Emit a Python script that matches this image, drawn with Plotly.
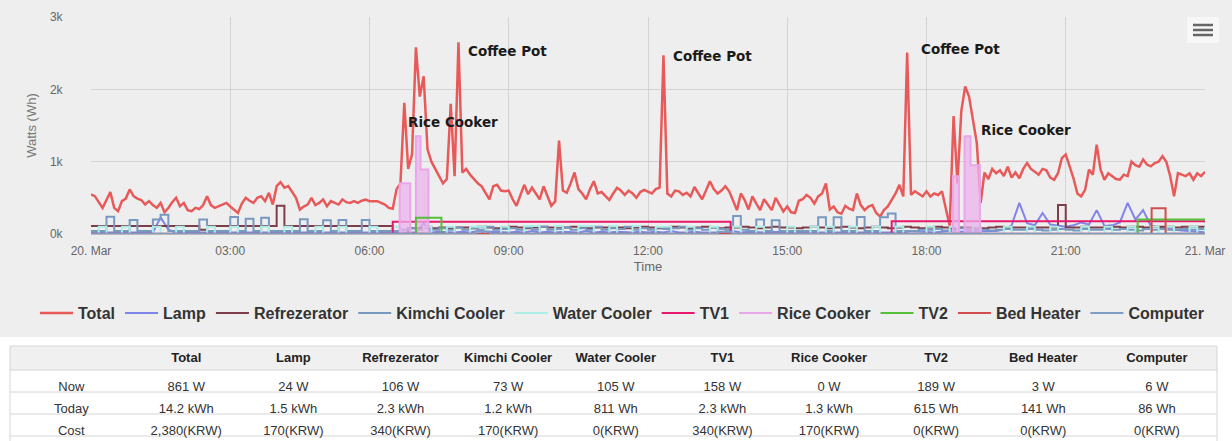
import numpy as np
import pandas as pd
import plotly.graph_objects as go

DAY_START = pd.Timestamp("2015-03-20 00:00")

# ---------------- data ----------------
# Total consumption, 5-minute readings (W), one row per hour
total_w = [
    546, 523, 440, 361, 470, 579, 361, 315, 454, 490, 616, 523,
    490, 470, 407, 454, 400, 361, 430, 300, 360, 440, 500, 384,
    430, 330, 315, 361, 345, 400, 523, 400, 361, 384, 400, 430,
    380, 338, 292, 420, 500, 460, 430, 500, 523, 454, 569, 407,
    662, 717, 639, 662, 580, 500, 338, 380, 407, 500, 400, 430,
    477, 384, 454, 430, 407, 477, 440, 430, 454, 430, 460, 477,
    454, 454, 454, 430, 407, 361, 350, 620, 700, 1815, 900, 1100,
    2580, 1900, 2180, 1170, 1000, 900, 800, 700, 760, 1800, 800, 2650,
    850, 900, 820, 760, 700, 660, 560, 480, 660, 680, 600, 590,
    600, 480, 390, 550, 680, 550, 640, 560, 480, 660, 520, 390,
    450, 1290, 600, 570, 700, 850, 620, 560, 480, 620, 730, 560,
    580, 520, 470, 560, 640, 600, 540, 600, 560, 500, 580, 610,
    580, 560, 620, 640, 2470, 560, 520, 600, 590, 540, 570, 520,
    650, 560, 480, 600, 730, 620, 560, 600, 660, 590, 470, 330,
    560, 470, 340, 520, 420, 330, 480, 400, 330, 500, 400, 310,
    380, 300, 290, 460, 480, 540, 500, 420, 520, 560, 700, 340,
    380, 300, 280, 390, 350, 330, 560, 400, 330, 380, 400, 290,
    240, 330, 380, 470, 560, 680, 520, 2510, 540, 590, 560, 520,
    590, 520, 560, 540, 590, 330, 110, 1630, 700, 1700, 2040, 1900,
    1580, 1260, 430, 850, 760, 900, 840, 880, 800, 930, 780, 850,
    770, 900, 980, 900, 860, 820, 900, 880, 780, 750, 840, 1050,
    1100, 940, 770, 560, 520, 610, 890, 820, 1235, 890, 750, 840,
    800, 760, 750, 820, 800, 1000, 950, 930, 1030, 960, 935, 980,
    1000, 1075, 1000, 800, 520, 840, 820, 800, 840, 750, 840, 800,
    861,
]

# Appliances, 10-minute readings (W), one row per hour
lamp_w = [
    20, 20, 20, 20, 20, 20,
    20, 20, 20, 230, 60, 20,
    20, 20, 20, 20, 20, 20,
    20, 20, 20, 20, 20, 20,
    20, 20, 20, 20, 20, 20,
    20, 20, 20, 20, 20, 20,
    20, 20, 20, 20, 30, 20,
    20, 150, 20, 30, 20, 20,
    30, 20, 40, 20, 30, 20,
    20, 30, 20, 40, 20, 30,
    20, 30, 20, 20, 40, 20,
    30, 20, 30, 20, 20, 30,
    20, 30, 20, 40, 20, 20,
    30, 20, 20, 30, 20, 40,
    20, 30, 20, 20, 30, 20,
    20, 20, 30, 20, 20, 30,
    20, 30, 20, 20, 30, 20,
    20, 20, 30, 20, 40, 30,
    30, 20, 30, 40, 30, 30,
    30, 30, 30, 40, 60, 120,
    430, 150, 120, 290, 130, 110,
    100, 120, 160, 130, 330, 110,
    120, 160, 430, 200, 330, 110,
    90, 80, 60, 50, 40, 30,
    24,
]

refrezerator_w = [
    110, 110, 110, 110, 110, 110,
    110, 110, 110, 110, 110, 110,
    110, 110, 60, 110, 110, 110,
    110, 110, 110, 110, 110, 110,
    390, 110, 110, 110, 110, 110,
    110, 110, 110, 110, 110, 110,
    110, 110, 110, 0, 0, 80,
    80, 90, 80, 90, 80, 90,
    90, 80, 100, 90, 80, 90,
    100, 90, 80, 90, 100, 90,
    80, 90, 100, 90, 80, 90,
    90, 100, 90, 80, 90, 100,
    90, 80, 90, 100, 90, 80,
    90, 100, 90, 80, 90, 90,
    100, 90, 80, 90, 100, 90,
    90, 80, 90, 100, 90, 80,
    90, 100, 90, 80, 90, 100,
    90, 80, 90, 100, 90, 80,
    90, 100, 90, 80, 90, 90,
    90, 80, 90, 100, 90, 90,
    90, 90, 90, 90, 90, 400,
    90, 90, 100, 90, 90, 100,
    100, 90, 100, 100, 90, 100,
    100, 100, 90, 100, 100, 100,
    106,
]

kimchi_w = [
    40, 40, 240, 40, 40, 195,
    40, 40, 200, 265, 40, 40,
    40, 40, 200, 40, 40, 40,
    235, 40, 210, 40, 225, 40,
    40, 40, 40, 205, 40, 40,
    190, 40, 195, 40, 40, 195,
    40, 40, 40, 40, 60, 80,
    60, 100, 60, 80, 60, 90,
    60, 80, 60, 100, 60, 70,
    80, 60, 90, 60, 100, 60,
    70, 90, 60, 80, 60, 100,
    60, 80, 70, 100, 60, 80,
    60, 90, 70, 80, 100, 60,
    80, 60, 90, 70, 60, 250,
    60, 40, 200, 40, 190, 40,
    40, 40, 40, 40, 230, 40,
    230, 40, 40, 235, 40, 40,
    230, 285, 40, 40, 40, 60,
    60, 70, 50, 60, 80, 60,
    70, 60, 50, 60, 70, 60,
    60, 70, 60, 50, 60, 70,
    60, 50, 70, 60, 60, 70,
    60, 70, 60, 50, 70, 60,
    70, 60, 60, 70, 60, 70,
    73,
]

water_cooler_w = [
    0, 100, 0, 0, 100, 0,
    0, 0, 100, 0, 0, 100,
    0, 0, 0, 100, 0, 0,
    100, 0, 0, 0, 100, 0,
    0, 100, 0, 0, 0, 100,
    0, 0, 100, 0, 0, 0,
    100, 0, 0, 100, 0, 0,
    0, 100, 0, 0, 100, 0,
    0, 100, 100, 0, 0, 100,
    0, 0, 110, 110, 0, 0,
    110, 0, 0, 110, 110, 0,
    0, 110, 0, 0, 110, 0,
    0, 100, 100, 0, 0, 100,
    0, 0, 100, 0, 0, 100,
    0, 0, 100, 0, 0, 0,
    100, 0, 0, 100, 0, 100,
    0, 0, 100, 0, 0, 100,
    0, 0, 100, 0, 0, 0,
    100, 0, 0, 100, 0, 0,
    100, 0, 0, 0, 100, 0,
    0, 100, 0, 0, 100, 0,
    0, 0, 100, 0, 0, 100,
    0, 0, 100, 0, 0, 100,
    0, 100, 0, 0, 100, 0,
    105,
]

# Switched appliances: change points (hour of day, W)
rice_hours = [0, 6.65, 6.88, 7.0, 7.1, 7.27, 18.57, 18.7, 18.82, 18.95, 19.15, 24]
rice_w = [0, 700, 0, 1350, 890, 0, 800, 0, 1350, 950, 0, 0]
tv1_hours = [0, 6.5, 13.78, 17.25, 24]
tv1_w = [0, 170, 0, 175, 158]
tv2_hours = [0, 7.0, 7.55, 22.55, 24]
tv2_w = [0, 225, 0, 200, 189]
bed_hours = [0, 22.85, 23.15, 24]
bed_w = [3, 355, 3, 3]
computer_hours = [0, 8.3, 8.6, 13.5, 13.8, 24]
computer_w = [5, 35, 5, 30, 5, 6]

# Table
table_cols = ["Total", "Lamp", "Refrezerator", "Kimchi Cooler", "Water Cooler",
              "TV1", "Rice Cooker", "TV2", "Bed Heater", "Computer"]
row_labels = ["Now", "Today", "Cost"]
now_vals = ["861 W", "24 W", "106 W", "73 W", "105 W", "158 W", "0 W", "189 W", "3 W", "6 W"]
today_vals = ["14.2 kWh", "1.5 kWh", "2.3 kWh", "1.2 kWh", "811 Wh", "2.3 kWh",
              "1.3 kWh", "615 Wh", "141 Wh", "86 Wh"]
cost_vals = ["2,380(KRW)", "170(KRW)", "340(KRW)", "170(KRW)", "0(KRW)", "340(KRW)",
             "170(KRW)", "0(KRW)", "0(KRW)", "0(KRW)"]

# Axes / labels
x_tick_hours = [0, 3, 6, 9, 12, 15, 18, 21, 24]
x_tick_text = ["20. Mar", "03:00", "06:00", "09:00", "12:00", "15:00", "18:00", "21:00", "21. Mar"]
y_tick_vals = [0, 1000, 2000, 3000]
y_tick_text = ["0k", "1k", "2k", "3k"]

event_labels = ["Rice Cooker", "Coffee Pot", "Coffee Pot", "Coffee Pot", "Rice Cooker"]
event_hours = [6.81, 8.10, 12.52, 17.86, 19.15]
event_watts = [1548, 2529, 2460, 2557, 1437]

# ---------------- styling ----------------
W, H = 1232, 441
colors = {
    "Total": "#e85a5a", "Lamp": "#8085e9", "Refrezerator": "#7d3e4b",
    "Kimchi Cooler": "#7798bf", "Water Cooler": "#aaeee6", "TV1": "#e8186a",
    "Rice Cooker": "#e9a6e9", "TV2": "#55bf3b", "Bed Heater": "#d24d4d",
    "Computer": "#7f9cc4",
}


def hours_to_time(hours):
    return DAY_START + pd.to_timedelta(np.asarray(hours, dtype=float), unit="h")


t5 = DAY_START + pd.to_timedelta(np.arange(len(total_w)) * 5, unit="min")
t10 = DAY_START + pd.to_timedelta(np.arange(len(lamp_w)) * 10, unit="min")

series = [
    ("Total", t5, total_w, "linear", 2.5),
    ("Lamp", t10, lamp_w, "linear", 2),
    ("Refrezerator", t10, refrezerator_w, "hv", 2),
    ("Kimchi Cooler", t10, kimchi_w, "hv", 2),
    ("Water Cooler", t10, water_cooler_w, "hv", 2),
    ("TV1", hours_to_time(tv1_hours), tv1_w, "hv", 2),
    ("Rice Cooker", hours_to_time(rice_hours), rice_w, "hv", 2),
    ("TV2", hours_to_time(tv2_hours), tv2_w, "hv", 2),
    ("Bed Heater", hours_to_time(bed_hours), bed_w, "hv", 2),
    ("Computer", hours_to_time(computer_hours), computer_w, "hv", 2),
]

fig = go.Figure()
for name, xs, ys, shape, lw in series:
    if name == "Rice Cooker":
        # light body of the rice-cooker bursts (no legend entry)
        fig.add_trace(go.Scatter(
            x=xs, y=ys, mode="lines", showlegend=False, hoverinfo="skip",
            line=dict(width=0, shape=shape), fill="tozeroy",
            fillcolor="rgba(236,178,236,0.72)",
        ))
    fig.add_trace(go.Scatter(
        x=xs, y=ys, name=name, mode="lines",
        line=dict(color=colors[name], width=lw, shape=shape),
        hoverinfo="skip",
    ))

# Table
fig.add_trace(go.Table(
    domain=dict(x=[10 / W, 1217 / W], y=[0, 1 - 342 / H]),
    columnwidth=[122.5, 107, 107, 107, 108, 107, 106, 107, 107, 107, 120],
    header=dict(
        values=["<b></b>"] + ["<b>%s</b>" % c for c in table_cols],
        height=20, align="center",
        fill=dict(color="rgba(0,0,0,0)"),
        line=dict(color="rgba(0,0,0,0)", width=0),
        font=dict(family="Liberation Sans, Arial, sans-serif", size=13, color="#222222"),
    ),
    cells=dict(
        values=[row_labels] + [[n, t, c] for n, t, c in zip(now_vals, today_vals, cost_vals)],
        height=22, align="center",
        fill=dict(color="rgba(0,0,0,0)"),
        line=dict(color="rgba(0,0,0,0)", width=0),
        font=dict(family="Liberation Sans, Arial, sans-serif", size=13, color="#333333"),
    ),
))

# Event annotations
annotations = []
for lab, hr, wv in zip(event_labels, event_hours, event_watts):
    annotations.append(dict(
        x=hours_to_time([hr])[0], y=wv, xref="x", yref="y", text="<b>%s</b>" % lab,
        showarrow=False, xanchor="left", yanchor="middle", borderpad=0,
        font=dict(family="DejaVu Sans, Verdana, sans-serif", size=13.5, color="#1a1a1a"),
    ))


def px(xp):
    return xp / W


def py(yp):
    return 1 - yp / H


shapes = [
    # white area under the chart
    dict(type="rect", xref="paper", yref="paper", x0=0, x1=1, y0=0, y1=py(337),
         fillcolor="#ffffff", line=dict(width=0), layer="below"),
    # table header band
    dict(type="rect", xref="paper", yref="paper", x0=px(10), x1=px(1217), y0=py(370), y1=py(346),
         fillcolor="#f0f0f0", line=dict(width=0), layer="below"),
]
for yl in [346, 370, 392, 414, 436]:
    shapes.append(dict(type="line", xref="paper", yref="paper", x0=px(10), x1=px(1217),
                       y0=py(yl), y1=py(yl), line=dict(color="#d6d6d6", width=1), layer="below"))
for xl in [10, 1217]:
    shapes.append(dict(type="line", xref="paper", yref="paper", x0=px(xl), x1=px(xl),
                       y0=py(346), y1=0, line=dict(color="#d6d6d6", width=1), layer="below"))
# export-menu button
shapes.append(dict(type="rect", xref="paper", yref="paper", x0=px(1187), x1=px(1219),
                   y0=py(43), y1=py(17), fillcolor="rgba(255,255,255,0.55)",
                   line=dict(width=0), layer="above"))
for yl in [25, 30, 35]:
    shapes.append(dict(type="line", xref="paper", yref="paper", x0=px(1193), x1=px(1213),
                       y0=py(yl), y1=py(yl), line=dict(color="#666666", width=2.5), layer="above"))

fig.update_layout(
    template="none",
    width=W, height=H, autosize=False,
    margin=dict(l=0, r=0, t=0, b=0, pad=0, autoexpand=False),
    paper_bgcolor="#eeeeee", plot_bgcolor="rgba(0,0,0,0)",
    font=dict(family="Liberation Sans, Arial, sans-serif", color="#333333"),
    showlegend=True,
    legend=dict(
        orientation="h", x=622 / W, xanchor="center", y=py(313), yanchor="middle",
        bgcolor="rgba(0,0,0,0)", borderwidth=0,
        font=dict(family="Liberation Sans, Arial, sans-serif", size=16, color="#333333", weight="bold"),
        itemwidth=33, traceorder="normal",
    ),
    xaxis=dict(
        domain=[91 / W, 1205 / W], anchor="y", type="date", automargin=False,
        range=[DAY_START, hours_to_time([24])[0]],
        tickvals=list(hours_to_time(x_tick_hours)), ticktext=x_tick_text,
        showgrid=True, gridcolor="#d3d3d3", gridwidth=1,
        showline=True, linecolor="#b8b8b8", linewidth=1,
        ticks="outside", ticklen=6, tickcolor="rgba(0,0,0,0)",
        tickfont=dict(size=12, color="#666666"),
        title=dict(text="Time", font=dict(size=13, color="#666666"), standoff=4),
        zeroline=False, fixedrange=True,
    ),
    yaxis=dict(
        domain=[1 - 234 / H, 1 - 17 / H], anchor="x", automargin=False,
        range=[0, 3000], tickvals=y_tick_vals, ticktext=y_tick_text,
        showgrid=True, gridcolor="#d3d3d3", gridwidth=1,
        zeroline=False, ticks="outside", ticklen=25, tickcolor="rgba(0,0,0,0)",
        tickfont=dict(size=12, color="#666666"),
        title=dict(text="Watts (Wh)", font=dict(size=13, color="#777777"), standoff=10),
        fixedrange=True,
    ),
    annotations=annotations,
    shapes=shapes,
)

fig.write_html(
    "out.html",
    config={"displayModeBar": False},
    post_script="document.body.style.margin='0px';document.body.style.padding='0px';"
                "document.body.style.overflow='hidden';",
)
